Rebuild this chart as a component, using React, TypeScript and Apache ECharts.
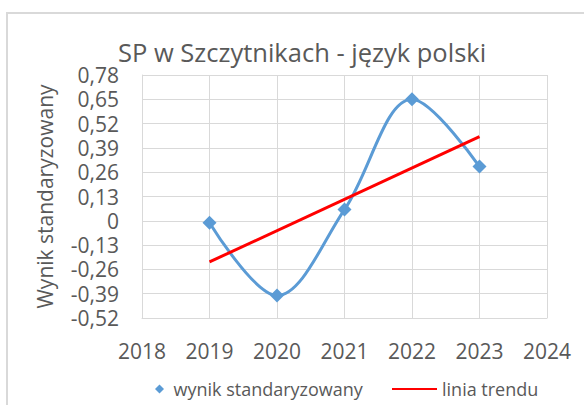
import React, { useEffect, useRef } from "react";
import * as echarts from "echarts";

const years = [2019, 2020, 2021, 2022, 2023];
const wynik = [-0.01, -0.4, 0.06, 0.65, 0.29];
const trendYears = [2019, 2023];
const trendValues = [-0.22, 0.45];
const titleText = "SP w Szczytnikach - język polski";
const yAxisName = "Wynik standaryzowany";
const seriesName = "wynik standaryzowany";
const trendName = "linia trendu";

const FONT = "'Open Sans', sans-serif";
const TXT = "#595959";
const GRID = "#d9d9d9";

export default function App() {
  const ref = useRef<HTMLDivElement>(null);
  useEffect(() => {
    if (!ref.current) return;
    const chart = echarts.init(ref.current, null, { renderer: "svg" });
    const fmt = (v: number) => {
      if (Math.abs(v) < 1e-9) return "0";
      return v.toFixed(2).replace(".", ",");
    };
    chart.setOption({
      animation: false,
      backgroundColor: "#ffffff",
      textStyle: { fontFamily: FONT },
      graphic: [
        {
          type: "rect",
          shape: { x: 7, y: 13, width: 700, height: 500 },
          style: { fill: "none", stroke: GRID, lineWidth: 2 },
          silent: true,
          z: -10,
        },
      ],
      title: {
        text: titleText,
        left: 113,
        top: 34,
        textStyle: { fontFamily: FONT, fontSize: 25.5, fontWeight: "normal", color: TXT },
      },
      grid: { left: 142, right: 37, top: 75, bottom: 87 },
      xAxis: {
        type: "value",
        min: 2018,
        max: 2024,
        interval: 1,
        axisLine: { show: true, onZero: false, lineStyle: { color: GRID, width: 1 } },
        axisTick: { show: false },
        splitLine: { show: true, lineStyle: { color: GRID, width: 1 } },
        axisLabel: { color: TXT, fontSize: 21, lineHeight: 22, fontFamily: FONT, margin: 22, formatter: (v: number) => String(v) },
      },
      yAxis: {
        type: "value",
        min: -0.52,
        max: 0.78,
        interval: 0.13,
        name: yAxisName,
        nameLocation: "middle",
        nameGap: 86,
        nameTextStyle: { color: TXT, fontSize: 21, lineHeight: 22, fontFamily: FONT },
        axisLine: { show: true, lineStyle: { color: GRID, width: 1 } },
        axisTick: { show: false },
        splitLine: { show: true, lineStyle: { color: GRID, width: 1 } },
        axisLabel: { color: TXT, fontSize: 21, lineHeight: 22, fontFamily: FONT, margin: 23, formatter: fmt },
      },
      legend: [
        {
          data: [{ name: seriesName, icon: "path://M0,5L5,0L10,5L5,10Z" }],
          left: 150,
          top: 375,
          itemWidth: 18,
          itemHeight: 9,
          symbolKeepAspect: true,
          textStyle: { color: TXT, fontSize: 18, fontFamily: FONT },
        },
        {
          data: [{ name: trendName, icon: "path://M0,0L100,0L100,4L0,4Z" }],
          left: 387,
          top: 375,
          itemWidth: 45,
          itemHeight: 9,
          symbolKeepAspect: true,
          textStyle: { color: TXT, fontSize: 18, fontFamily: FONT },
        },
      ],
      series: [
        {
          name: seriesName,
          type: "line",
          data: years.map((y, i) => [y, wynik[i]]),
          smooth: 0.35,
          symbol: "diamond",
          symbolSize: 14,
          itemStyle: { color: "#5B9BD5" },
          lineStyle: { color: "#5B9BD5", width: 3 },
          z: 2,
        },
        {
          name: trendName,
          type: "line",
          data: trendYears.map((y, i) => [y, trendValues[i]]),
          symbol: "none",
          itemStyle: { color: "#FF0000" },
          lineStyle: { color: "#FF0000", width: 3 },
          z: 3,
        },
      ],
    });
    return () => chart.dispose();
  }, []);
  return (
    <div
      ref={ref}
      style={{ position: "fixed", left: 0, top: 0, width: 584, height: 405 }}
    />
  );
}
